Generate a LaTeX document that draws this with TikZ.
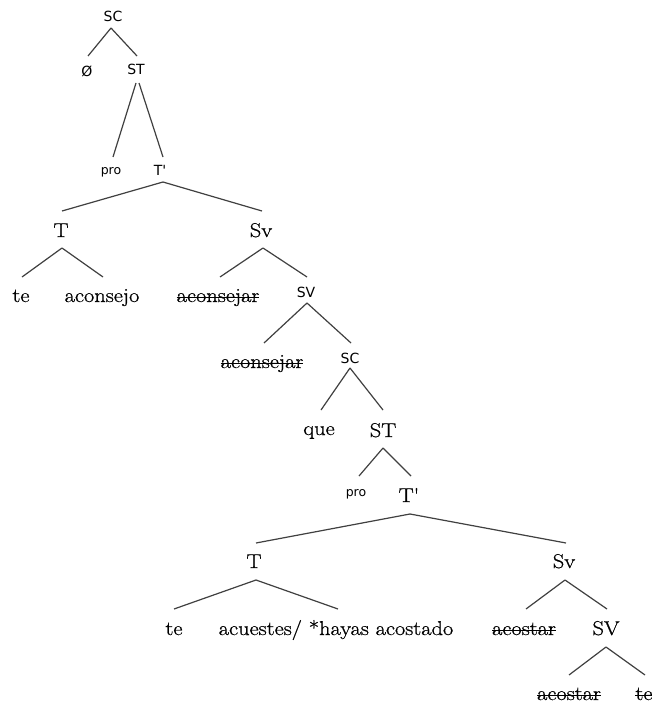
\documentclass[tikz,border=0pt]{standalone}
\usepackage{fontspec}
\setmainfont{Latin Modern Roman}[FakeStretch=1.12,FakeBold=0.8]
\newfontfamily\serfplain{Latin Modern Roman}[FakeStretch=1.12,FakeBold=0.8]
\newfontfamily\sansf{DejaVu Sans}
\usetikzlibrary{calc}
\newcommand\strk[1]{\begingroup\setbox0\hbox{#1}\rlap{\rule[0.21em]{\wd0}{1.2pt}}\box0\endgroup}
\newcommand\tline[4]{\draw[tl] ($(#1.base)+(#2)$) -- ($(#3.base)+(#4)$);}
\begin{document}
\begin{tikzpicture}[x=1pt,y=-1pt,
  sr/.style={anchor=base,inner sep=0pt,font=\fontsize{20}{24}\selectfont},
  ss/.style={anchor=base,inner sep=0pt,font=\sansf\fontsize{14}{16}\selectfont},
  sp/.style={anchor=base,inner sep=0pt,font=\sansf\fontsize{12.5}{14}\selectfont},
  tl/.style={draw=black!75,line width=1.2pt}]
\fill[white] (0,0) rectangle (652,706);
\useasboundingbox (0,0) rectangle (652,706);
% upper tree
\node[ss] (sc1) at (113,22) {SC};
\node[ss] (phi) at (87,77) {Ø};
\node[ss] (st1) at (136,75) {ST};
\node[sp] (pro1) at (111,174) {pro};
\node[ss] (tb1) at (160,175) {T'};
\node[sr] (T1) at (61,237) {T};
\node[sr] (Sv1) at (261,237) {Sv};
\node[sr] (te1) at (21,302) {te};
\node[sr] (acj) at (102,302) {aconsejo};
\node[sr] (acjr1) at (218,302) {\strk{aconsejar}};
\node[ss] (SV1) at (306,297) {SV};
\node[sr] (acjr2) at (262,368) {\strk{aconsejar}};
\node[ss] (sc2) at (350,363) {SC};
\node[sr] (que) at (319,435) {que};
\node[sr] (st2) at (383,437) {ST};
\node[sp] (pro2) at (356,496) {pro};
\node[sr,font=\serfplain\fontsize{20}{24}\selectfont] (tb2) at (409,502) {T'};
\node[sr] (T2) at (254,568) {T};
\node[sr] (Sv2) at (564,568) {Sv};
\node[sr] (te2) at (174,635) {te};
\node[sr] (acu) at (336,635) {acuestes/ *hayas acostado};
\node[sr] (acost1) at (524,635) {\strk{acostar}};
\node[sr] (SV2) at (606,635) {SV};
\node[sr] (acost2) at (569,700) {\strk{acostar}};
\node[sr] (te3) at (644,700) {\strk{te}};
% connectors
\tline{sc1}{-2,6}{phi}{1,-21}
\tline{sc1}{-2,6}{st1}{1,-19}
\tline{st1}{0,8}{pro1}{2,-17}
\tline{st1}{3,8}{tb1}{3,-18}
\tline{tb1}{3,7}{T1}{1,-26}
\tline{tb1}{3,7}{Sv1}{1,-26}
\tline{T1}{1,11}{te1}{1,-25}
\tline{T1}{1,11}{acj}{1,-25}
\tline{Sv1}{2,11}{acjr1}{2,-25}
\tline{Sv1}{2,11}{SV1}{1,-20}
\tline{SV1}{1,6}{acjr2}{2,-25}
\tline{SV1}{1,6}{sc2}{1,-20}
\tline{sc2}{0,5}{que}{2,-25}
\tline{sc2}{0,5}{st2}{0,-27}
\tline{st2}{0,11}{pro2}{3,-20}
\tline{st2}{0,11}{tb2}{2,-26}
\tline{tb2}{1,12}{T2}{2,-25}
\tline{tb2}{1,12}{Sv2}{2,-25}
\tline{T2}{2,12}{te2}{0,-26}
\tline{T2}{2,12}{acu}{2,-26}
\tline{Sv2}{1,12}{acost1}{2,-26}
\tline{Sv2}{1,12}{SV2}{1,-26}
\tline{SV2}{0,12}{acost2}{0,-25}
\tline{SV2}{0,12}{te3}{1,-25}
\end{tikzpicture}
\end{document}
